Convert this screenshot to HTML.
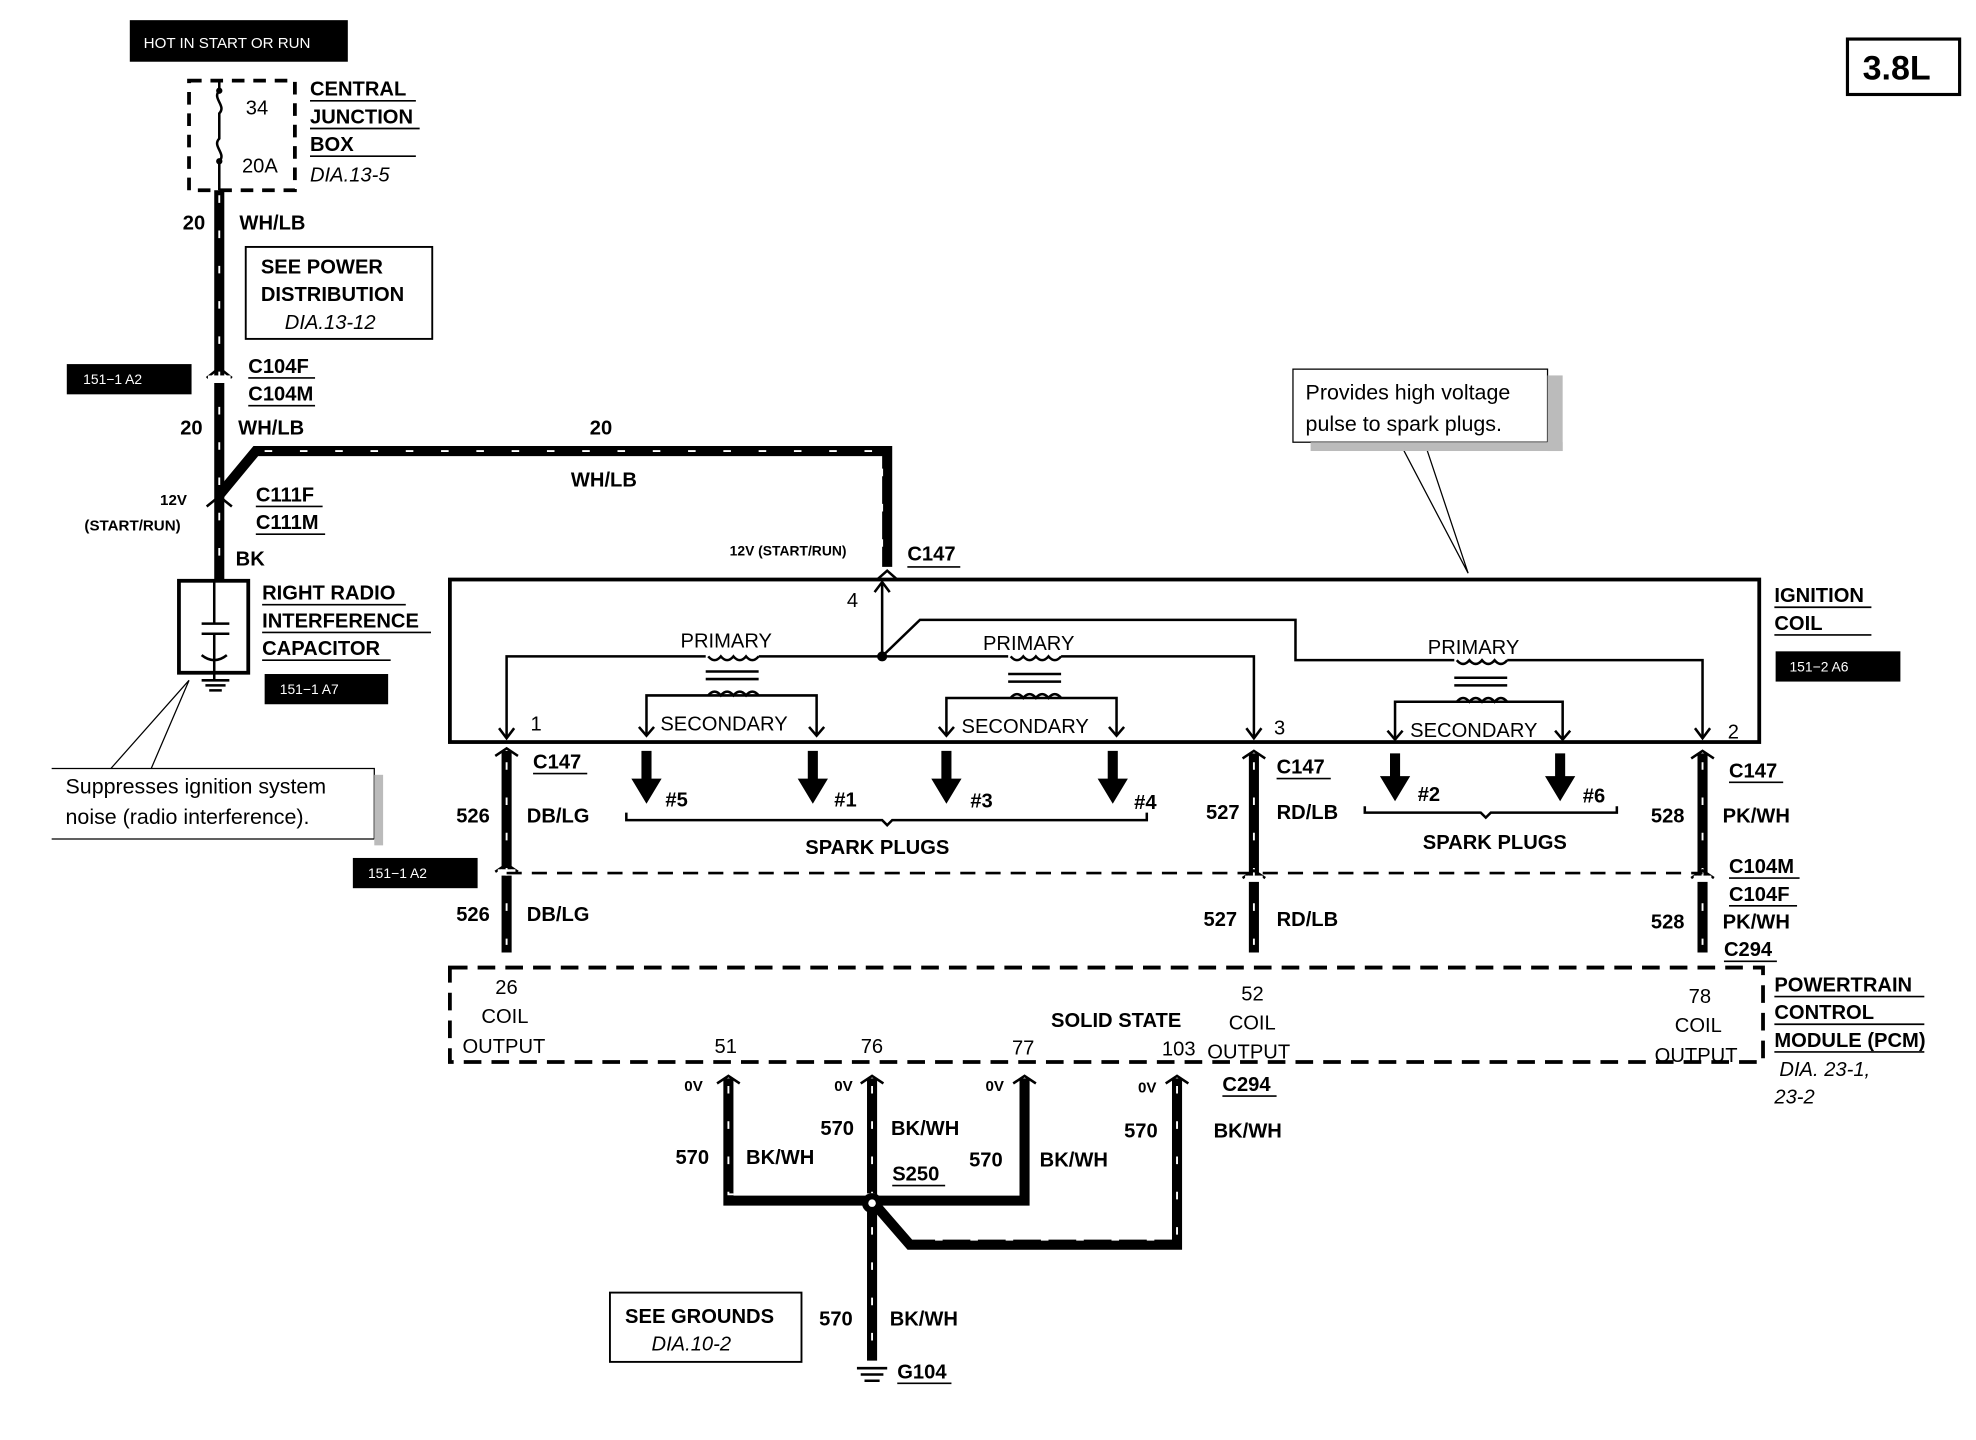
<!DOCTYPE html>
<html><head><meta charset="utf-8"><style>
html,body{margin:0;padding:0;background:#fff;}
svg{display:block;}
text{font-family:"Liberation Sans",sans-serif;fill:#000;}
.b{font-weight:bold;font-size:16px;}
.n{font-size:16px;}
.s{font-size:12px;font-weight:bold;}
.i{font-style:italic;font-size:16px;}
.w{stroke:#000;stroke-width:8;fill:none;}
.wd{stroke:#fff;stroke-width:1.5;fill:none;stroke-dasharray:6 22;}
.t{stroke:#000;stroke-width:2;fill:none;}
.u{stroke:#000;stroke-width:1.3;}
</style></head><body>
<svg width="1976" height="1440" viewBox="0 0 1568 1143" preserveAspectRatio="none" xmlns="http://www.w3.org/2000/svg">
<rect width="1568" height="1143" fill="#fff"/>
<rect x="103" y="16" width="173" height="33" fill="#000"/>
<text x="114" y="38" font-size="12" style="fill:#fff">HOT IN START OR RUN</text>
<rect x="1466" y="31" width="89" height="44" fill="none" stroke="#000" stroke-width="2.5"/>
<text x="1478" y="63" font-size="27" font-weight="bold">3.8L</text>
<rect x="150" y="64" width="84" height="87" fill="none" stroke="#000" stroke-width="3" stroke-dasharray="10 7"/>
<path d="M174 64 V72 M174 72 c-6 6 6 12 0 18 V110 c-6 6 6 12 0 18 V151" class="t"/>
<circle cx="174" cy="72" r="2.5"/><circle cx="174" cy="128" r="2.5"/>
<text x="195" y="91" class="n">34</text><text x="192" y="137" class="n">20A</text>
<text x="246" y="76" class="b">CENTRAL</text><line x1="246" y1="80" x2="330" y2="80" class="u"/>
<text x="246" y="98" class="b">JUNCTION</text><line x1="246" y1="102" x2="333" y2="102" class="u"/>
<text x="246" y="120" class="b">BOX</text><line x1="246" y1="124" x2="330" y2="124" class="u"/>
<text x="246" y="144" class="i">DIA.13-5</text>
<path d="M174 151 V460" class="w"/><path d="M174 155 V450" class="wd"/>
<text x="145" y="182" class="b">20</text><text x="190" y="182" class="b">WH/LB</text>
<rect x="195" y="196" width="148" height="73" fill="none" stroke="#000" stroke-width="1.5"/>
<text x="207" y="217" class="b">SEE POWER</text>
<text x="207" y="239" class="b">DISTRIBUTION</text>
<text x="226" y="261" class="i">DIA.13-12</text>
<rect x="53" y="289" width="99" height="24" fill="#000"/>
<text x="66" y="305" font-size="11" style="fill:#fff">151−1 A2</text>
<path d="M164 300 l10 -8 l10 8" class="t" stroke-width="3"/>
<rect x="165" y="298" width="18" height="6" fill="#fff"/>
<text x="197" y="296" class="b">C104F</text><line x1="197" y1="300" x2="250" y2="300" class="u"/>
<text x="197" y="318" class="b">C104M</text><line x1="197" y1="322" x2="250" y2="322" class="u"/>
<text x="143" y="345" class="b">20</text><text x="189" y="345" class="b">WH/LB</text>
<path d="M174 393 L203 358 H704 V450" class="w"/><path d="M210 358 H700 V445" class="wd"/>
<text x="468" y="345" class="b">20</text><text x="453" y="386" class="b">WH/LB</text>
<path d="M164 402 l10 -8 l10 8" class="t" stroke-width="3"/>
<text x="127" y="401" class="s" font-size="11">12V</text>
<text x="67" y="421" class="s" font-size="11">(START/RUN)</text>
<text x="203" y="398" class="b">C111F</text><line x1="203" y1="402" x2="256" y2="402" class="u"/>
<text x="203" y="420" class="b">C111M</text><line x1="203" y1="424" x2="258" y2="424" class="u"/>
<text x="187" y="449" class="b">BK</text>
<rect x="142" y="461" width="55" height="73" fill="none" stroke="#000" stroke-width="3"/>
<path d="M170 461 V495 M160 495 H182 M160 503 H182 M170 503 V534 M160 520 q10 8 20 0" class="t"/>
<path d="M170 534 V540 M160 540 H182 M163 544 H179 M166 548 H176" class="t"/>
<text x="208" y="476" class="b">RIGHT RADIO</text><line x1="208" y1="480" x2="322" y2="480" class="u"/>
<text x="208" y="498" class="b">INTERFERENCE</text><line x1="208" y1="502" x2="342" y2="502" class="u"/>
<text x="208" y="520" class="b">CAPACITOR</text><line x1="208" y1="524" x2="310" y2="524" class="u"/>
<rect x="210" y="535" width="98" height="24" fill="#000"/>
<text x="222" y="551" font-size="11" style="fill:#fff">151−1 A7</text>
<path d="M88 610 L150 540 L120 610" fill="none" stroke="#000" stroke-width="1"/>
<rect x="41" y="610" width="256" height="56" fill="#fff"/>
<path d="M41 610 H297 V666 M41 666 H297" stroke="#000" stroke-width="1" fill="none"/>
<rect x="297" y="615" width="7" height="56" fill="#bbb"/>
<text x="52" y="630" font-size="17">Suppresses ignition system</text>
<text x="52" y="654" font-size="17">noise (radio interference).</text>
<path d="M1110 350 L1165 455 L1130 350" fill="none" stroke="#000" stroke-width="1"/>
<rect x="1026" y="293" width="202" height="58" fill="#fff" stroke="#000" stroke-width="1"/>
<rect x="1228" y="298" width="12" height="60" fill="#bbb"/>
<rect x="1040" y="351" width="200" height="7" fill="#bbb"/>
<text x="1036" y="317" font-size="17">Provides high voltage</text>
<text x="1036" y="342" font-size="17">pulse to spark plugs.</text>
<text x="579" y="441" font-size="11" font-weight="bold">12V (START/RUN)</text>
<text x="720" y="445" class="b">C147</text><line x1="720" y1="450" x2="762" y2="450" class="u"/>
<path d="M696 460 l8 -7 l8 7" class="t" stroke-width="3"/>
<rect x="357" y="460" width="1039" height="129" fill="none" stroke="#000" stroke-width="3"/>
<text x="1408" y="478" class="b">IGNITION</text><line x1="1408" y1="482" x2="1485" y2="482" class="u"/>
<text x="1408" y="500" class="b">COIL</text><line x1="1408" y1="504" x2="1485" y2="504" class="u"/>
<rect x="1409" y="517" width="99" height="24" fill="#000"/>
<text x="1420" y="533" font-size="11" style="fill:#fff">151−2 A6</text>
<path d="M402 585 V521 H700 V463 M700 521 H995 V585" class="t"/>
<path d="M694 470 l6 -8 l6 8" class="t"/>
<circle cx="700" cy="521" r="4"/>
<path d="M700 521 L730 492 H1028 V524 H1351 V585" class="t"/>
<path d="M396 578 l6 8 l6 -8 M989 578 l6 8 l6 -8 M1345 578 l6 8 l6 -8" class="t"/>
<text x="672" y="482" class="n">4</text>
<text x="421" y="580" class="n">1</text><text x="1011" y="583" class="n">3</text><text x="1371" y="586" class="n">2</text>
<g class="t">
<rect x="560" y="518" width="42" height="6" fill="#fff" stroke="none"/>
<path d="M562 521 q5 6 10 0 q5 6 10 0 q5 6 10 0 q5 6 10 0"/>
<path d="M560 533 H602 M560 539 H602"/>
<path d="M562 552 q5 -6 10 0 q5 -6 10 0 q5 -6 10 0 q5 -6 10 0"/>
<path d="M513 583 V552 H648 V583"/>
<rect x="800" y="518" width="42" height="6" fill="#fff" stroke="none"/>
<path d="M802 521 q5 6 10 0 q5 6 10 0 q5 6 10 0 q5 6 10 0"/>
<path d="M800 535 H842 M800 541 H842"/>
<path d="M802 554 q5 -6 10 0 q5 -6 10 0 q5 -6 10 0 q5 -6 10 0"/>
<path d="M751 583 V554 H886 V583"/>
<rect x="1154" y="521" width="42" height="6" fill="#fff" stroke="none"/>
<path d="M1156 524 q5 6 10 0 q5 6 10 0 q5 6 10 0 q5 6 10 0"/>
<path d="M1154 538 H1196 M1154 544 H1196"/>
<path d="M1156 557 q5 -6 10 0 q5 -6 10 0 q5 -6 10 0 q5 -6 10 0"/>
<path d="M1107 586 V557 H1240 V586"/>
<path d="M507 577 l6 7 l6 -7 M642 577 l6 7 l6 -7 M745 577 l6 7 l6 -7 M880 577 l6 7 l6 -7 M1101 580 l6 7 l6 -7 M1234 580 l6 7 l6 -7"/>
</g>
<text x="540" y="514" class="n">PRIMARY</text>
<text x="780" y="516" class="n">PRIMARY</text>
<text x="1133" y="519" class="n">PRIMARY</text>
<text x="524" y="580" class="n">SECONDARY</text>
<text x="763" y="582" class="n">SECONDARY</text>
<text x="1119" y="585" class="n">SECONDARY</text>
<g fill="#000">
<path d="M509 596 h8 v22 h8 l-12 20 l-12 -20 h8z"/>
<path d="M641 596 h8 v22 h8 l-12 20 l-12 -20 h8z"/>
<path d="M747 596 h8 v22 h8 l-12 20 l-12 -20 h8z"/>
<path d="M879 596 h8 v22 h8 l-12 20 l-12 -20 h8z"/>
<path d="M1103 598 h8 v18 h8 l-12 20 l-12 -20 h8z"/>
<path d="M1234 598 h8 v18 h8 l-12 20 l-12 -20 h8z"/>
</g>
<text x="528" y="640" class="b">#5</text><text x="662" y="640" class="b">#1</text>
<text x="770" y="641" class="b">#3</text><text x="900" y="642" class="b">#4</text>
<text x="1125" y="636" class="b">#2</text><text x="1256" y="637" class="b">#6</text>
<path d="M497 645 V651 H700 l4 4 l4 -4 H910 V645" class="t"/>
<text x="639" y="678" class="b">SPARK PLUGS</text>
<path d="M1083 640 V645 H1175 l4 4 l4 -4 H1283 V640" class="t"/>
<text x="1129" y="674" class="b">SPARK PLUGS</text>
<path d="M402 596 V756 M995 598 V756 M1351 598 V756" class="w"/>
<path d="M402 605 V750 M995 605 V750 M1351 605 V750" class="wd"/>
<path d="M393 600 l9 -6 l9 6 M986 602 l9 -6 l9 6 M1342 602 l9 -6 l9 6" class="t" stroke-width="3"/>
<path d="M393 692 l9 -6 l9 6 M986 697 l9 -6 l9 6 M1342 697 l9 -6 l9 6" class="t" stroke-width="3"/>
<rect x="395" y="690" width="14" height="5" fill="#fff"/><rect x="988" y="695" width="14" height="5" fill="#fff"/><rect x="1344" y="695" width="14" height="5" fill="#fff"/>
<path d="M402 693 H1351" stroke="#000" stroke-width="2" stroke-dasharray="12 8"/>
<text x="423" y="610" class="b">C147</text><line x1="423" y1="614" x2="466" y2="614" class="u"/>
<text x="1013" y="614" class="b">C147</text><line x1="1013" y1="618" x2="1056" y2="618" class="u"/>
<text x="1372" y="617" class="b">C147</text><line x1="1372" y1="621" x2="1415" y2="621" class="u"/>
<text x="362" y="653" class="b">526</text><text x="418" y="653" class="b">DB/LG</text>
<text x="957" y="650" class="b">527</text><text x="1013" y="650" class="b">RD/LB</text>
<text x="1310" y="653" class="b">528</text><text x="1367" y="653" class="b">PK/WH</text>
<rect x="280" y="681" width="99" height="24" fill="#000"/>
<text x="292" y="697" font-size="11" style="fill:#fff">151−1 A2</text>
<text x="1372" y="693" class="b">C104M</text><line x1="1372" y1="697" x2="1428" y2="697" class="u"/>
<text x="1372" y="715" class="b">C104F</text><line x1="1372" y1="719" x2="1426" y2="719" class="u"/>
<text x="362" y="731" class="b">526</text><text x="418" y="731" class="b">DB/LG</text>
<text x="955" y="735" class="b">527</text><text x="1013" y="735" class="b">RD/LB</text>
<text x="1310" y="737" class="b">528</text><text x="1367" y="737" class="b">PK/WH</text>
<text x="1368" y="759" class="b">C294</text><line x1="1368" y1="763" x2="1410" y2="763" class="u"/>
<rect x="357" y="768" width="1042" height="75" fill="none" stroke="#000" stroke-width="3" stroke-dasharray="14 8"/>
<text x="1408" y="787" class="b">POWERTRAIN</text><line x1="1408" y1="791" x2="1527" y2="791" class="u"/>
<text x="1408" y="809" class="b">CONTROL</text><line x1="1408" y1="813" x2="1527" y2="813" class="u"/>
<text x="1408" y="831" class="b">MODULE (PCM)</text><line x1="1408" y1="835" x2="1527" y2="835" class="u"/>
<text x="1412" y="854" class="i">DIA. 23-1,</text>
<text x="1408" y="876" class="i">23-2</text>
<text x="393" y="789" class="n">26</text><text x="382" y="812" class="n">COIL</text><text x="367" y="836" class="n">OUTPUT</text>
<text x="985" y="794" class="n">52</text><text x="975" y="817" class="n">COIL</text><text x="958" y="840" class="n">OUTPUT</text>
<text x="1340" y="796" class="n">78</text><text x="1329" y="819" class="n">COIL</text><text x="1313" y="843" class="n">OUTPUT</text>
<text x="834" y="815" class="b">SOLID STATE</text>
<text x="567" y="836" class="n">51</text><text x="683" y="836" class="n">76</text>
<text x="803" y="837" class="n">77</text><text x="922" y="838" class="n">103</text>
<text x="970" y="866" class="b">C294</text><line x1="970" y1="870" x2="1013" y2="870" class="u"/>
<path d="M578 856 V953 H813 V856 M692 856 V1080 M696 958 L722 988 H934 V856" class="w"/>
<path d="M578 862 V948 H808 V862 M692 862 V1075 M934 862 V984 H726" class="wd"/>
<path d="M569 860 l9 -6 l9 6 M683 860 l9 -6 l9 6 M804 860 l9 -6 l9 6 M925 860 l9 -6 l9 6" class="t" stroke-width="3"/>
<circle cx="692" cy="955" r="8" fill="#000"/><circle cx="692" cy="955" r="3" fill="#fff"/>
<text x="543" y="866" font-size="12" font-weight="bold">0V</text>
<text x="662" y="866" font-size="12" font-weight="bold">0V</text>
<text x="782" y="866" font-size="12" font-weight="bold">0V</text>
<text x="903" y="867" font-size="12" font-weight="bold">0V</text>
<text x="536" y="924" class="b">570</text><text x="592" y="924" class="b">BK/WH</text>
<text x="651" y="901" class="b">570</text><text x="707" y="901" class="b">BK/WH</text>
<text x="708" y="937" class="b">S250</text><line x1="708" y1="941" x2="750" y2="941" class="u"/>
<text x="769" y="926" class="b">570</text><text x="825" y="926" class="b">BK/WH</text>
<text x="892" y="903" class="b">570</text><text x="963" y="903" class="b">BK/WH</text>
<rect x="484" y="1026" width="152" height="55" fill="none" stroke="#000" stroke-width="1.5"/>
<text x="496" y="1050" class="b">SEE GROUNDS</text>
<text x="517" y="1072" class="i">DIA.10-2</text>
<text x="650" y="1052" class="b">570</text><text x="706" y="1052" class="b">BK/WH</text>
<path d="M680 1086 H704 M683 1091 H701 M686 1096 H698" class="t"/>
<text x="712" y="1094" class="b">G104</text><line x1="712" y1="1098" x2="755" y2="1098" class="u"/>
</svg>
</body></html>
